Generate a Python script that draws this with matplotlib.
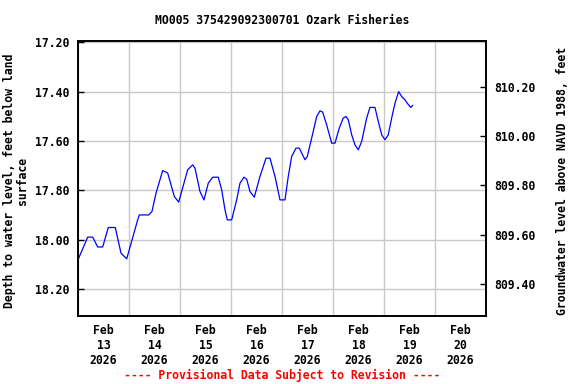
import numpy as np
import pandas as pd
import matplotlib
matplotlib.use("Agg")
import matplotlib.pyplot as plt
import matplotlib.dates as mdates

# hours after 2026-02-13 00:00 and depth to water (ft below land surface)
hours = [0, 4.56, 6.92, 9.27, 11.62, 14.26, 17.55, 20.24, 22.92, 28.09,
         28.85, 33.27, 34.82, 36.71, 39.86, 42.21, 45.32, 47.39, 51.62, 53.98,
         55.06, 57.41, 59.29, 61.32, 63.39, 66.02, 67.62, 69.18, 70.26, 72.33,
         74.68, 76.24, 78.12, 79.39, 80.94, 82.96, 85.65, 88.47, 90.35, 92.71,
         95.06, 97.41, 98.96, 100.56, 102.59, 104.14, 106.82, 107.91, 109.98, 112.33,
         113.88, 115.15, 117.04, 119.39, 120.94, 122.96, 124.85, 126.12, 127.20, 128.80,
         130.35, 131.91, 133.51, 135.86, 137.41, 139.76, 141.32, 142.92, 144.47, 146.02,
         147.62, 149.18, 150.92, 152.33, 153.88, 154.96, 156.56, 157.5]
depth = [18.082, 17.990, 17.990, 18.030, 18.030, 17.951, 17.951, 18.055, 18.078, 17.920,
         17.900, 17.900, 17.886, 17.812, 17.720, 17.730, 17.825, 17.848, 17.717, 17.697,
         17.710, 17.805, 17.839, 17.771, 17.747, 17.747, 17.798, 17.879, 17.920, 17.920,
         17.839, 17.771, 17.747, 17.755, 17.805, 17.828, 17.744, 17.670, 17.670, 17.744,
         17.839, 17.839, 17.744, 17.663, 17.629, 17.629, 17.676, 17.663, 17.588, 17.501,
         17.478, 17.483, 17.535, 17.609, 17.609, 17.548, 17.507, 17.501, 17.514, 17.575,
         17.616, 17.636, 17.602, 17.507, 17.464, 17.464, 17.521, 17.575, 17.595, 17.575,
         17.507, 17.447, 17.400, 17.420, 17.433, 17.447, 17.464, 17.456]

datum = 827.58  # land surface elevation, NAVD 1988
left_ticks = [17.20, 17.40, 17.60, 17.80, 18.00, 18.20]
right_ticks = [809.40, 809.60, 809.80, 810.00, 810.20]

start = pd.Timestamp("2026-02-13")
times = start + pd.to_timedelta(hours, unit="h")

mono = "DejaVu Sans Mono"
fs = 8.3

fig = plt.figure(figsize=(5.76, 3.84), dpi=100)
ax = fig.add_axes([0.1354, 0.177, 0.7083, 0.716])

ax.plot(times, depth, color="#0000ff", lw=0.9)

ax.set_xlim(start, start + pd.Timedelta(days=8))
ax.set_ylim(18.31, 17.195)

# gridlines at midnight, labels at noon
ax.xaxis.set_major_locator(mdates.DayLocator())
ax.xaxis.set_major_formatter(plt.NullFormatter())
ax.xaxis.set_minor_locator(mdates.HourLocator(byhour=[12]))
ax.xaxis.set_minor_formatter(mdates.DateFormatter("%b\n%d\n%Y"))
ax.tick_params(axis="x", which="both", length=0, pad=6)
ax.set_yticks(left_ticks)
ax.set_yticklabels([f"{v:.2f}" for v in left_ticks])
ax.tick_params(axis="y", direction="in", length=4, width=1, pad=6)
ax.grid(True, which="major", color="#c8c8c8", lw=1)

for lab in ax.get_xticklabels(minor=True) + ax.get_yticklabels():
    lab.set_fontfamily(mono)
    lab.set_fontweight("bold")
    lab.set_fontsize(fs)

for s in ax.spines.values():
    s.set_linewidth(1.2)

ax.set_ylabel("Depth to water level, feet below land\nsurface", family=mono,
              weight="bold", fontsize=fs, linespacing=1.0)
ax.yaxis.set_label_coords(-0.121, 0.49)

ax2 = ax.twinx()
ax2.set_ylim(datum - 18.31, datum - 17.195)
ax2.set_yticks(right_ticks)
ax2.set_yticklabels([f"{v:.2f}" for v in right_ticks], family=mono,
                    weight="bold", fontsize=fs)
ax2.tick_params(axis="y", direction="in", length=4, width=1, pad=6)
ax2.set_ylabel("Groundwater level above NAVD 1988, feet", family=mono,
               weight="bold", fontsize=fs)
ax2.yaxis.set_label_coords(1.172, 0.49)
for s in ax2.spines.values():
    s.set_linewidth(1.2)

fig.text(0.49, 0.946, "MO005 375429092300701 Ozark Fisheries", ha="center",
         va="center", family=mono, weight="bold", fontsize=fs)
fig.text(0.489, 0.023, "---- Provisional Data Subject to Revision ----",
         ha="center", va="center", family=mono, weight="bold", fontsize=fs,
         color="red")

fig.savefig("out.png", dpi=100)
